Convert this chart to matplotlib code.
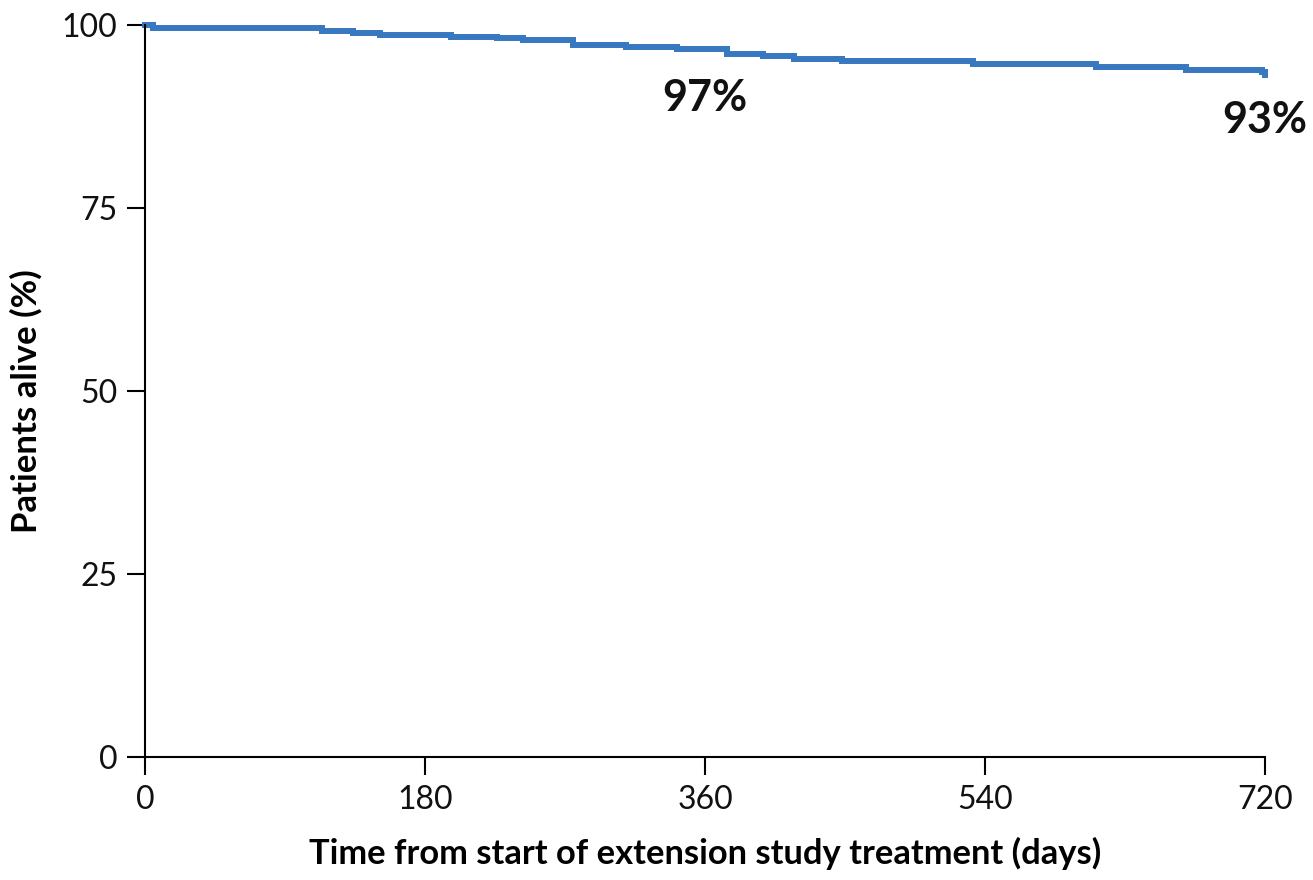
import matplotlib
matplotlib.use("Agg")
import matplotlib.pyplot as plt

plt.rcParams['font.family'] = ['Lato', 'DejaVu Sans']

# Kaplan-Meier step points: event day and survival (%) after that day
event_days = [0, 5, 114, 134, 151, 197, 226, 243, 275, 309, 342, 374, 397,
              417, 448, 532, 611, 669, 718, 720]
survival = [100.0, 99.55, 99.2, 98.9, 98.6, 98.4, 98.2, 97.95, 97.3, 96.95,
            96.7, 96.0, 95.7, 95.4, 95.1, 94.7, 94.2, 93.85, 93.6, 93.2]

x_ticks = [0, 180, 360, 540, 720]
y_ticks = [0, 25, 50, 75, 100]

annotations = [(360, 90.0, "97%"), (720, 87.0, "93%")]

fig = plt.figure(figsize=(13.13, 8.8), dpi=100)
ax = fig.add_axes([0.1104, 0.1398, 0.8531, 0.8318])

ax.step(event_days, survival, where='post', color='#3878C0', lw=4.3,
        clip_on=False, solid_joinstyle='miter')

ax.set_xlim(0, 720)
ax.set_ylim(0, 100)
ax.set_xticks(x_ticks)
ax.set_yticks(y_ticks)
ax.tick_params(axis='both', direction='out', length=13, width=1.5,
               labelsize=23, pad=7, color='black', labelcolor='#111111')

for side in ('top', 'right'):
    ax.spines[side].set_visible(False)
for side in ('left', 'bottom'):
    ax.spines[side].set_linewidth(1.5)

ax.set_xlabel("Time from start of extension study treatment (days)",
              fontsize=24.8, fontweight='bold', labelpad=16)
ax.set_ylabel("Patients alive (%)", fontsize=25, fontweight='bold')
ax.yaxis.set_label_coords(-0.091, 0.486)

for xd, yv, txt in annotations:
    ax.text(xd, yv, txt, fontsize=31, fontweight='bold', ha='center',
            va='center', clip_on=False, color='#111111')

fig.savefig("out.png", dpi=100)
